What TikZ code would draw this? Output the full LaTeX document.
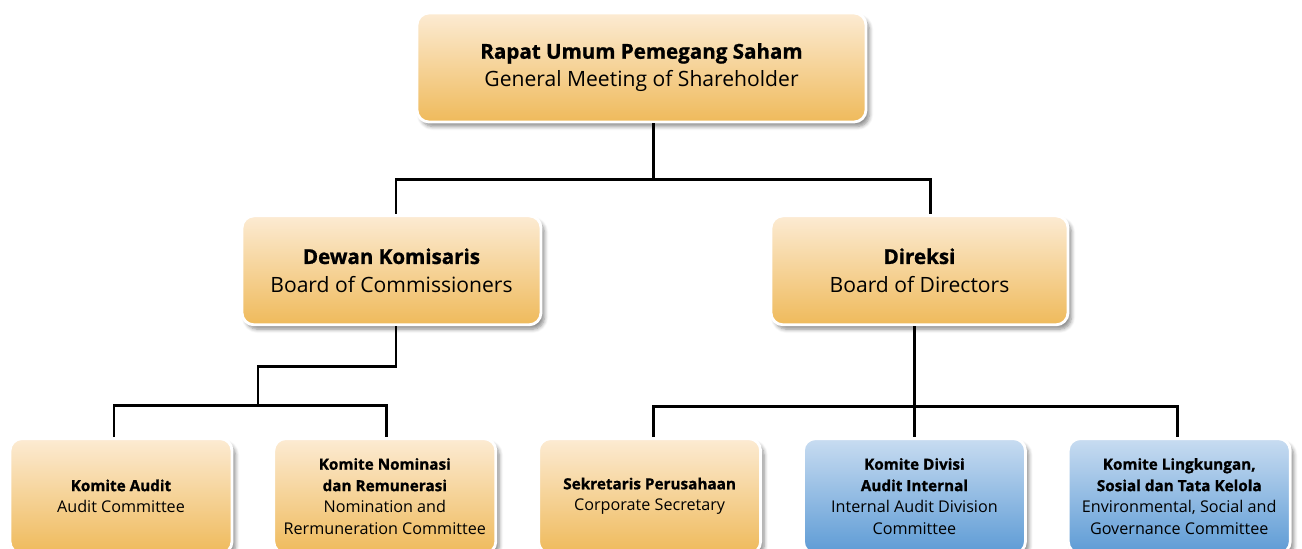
\documentclass[tikz,border=0pt]{standalone}
\usepackage{fontspec}
\setmainfont{Open Sans}[BoldFeatures={FakeBold=1}]
\usetikzlibrary{positioning,shadows.blur}

\definecolor{goldtop}{HTML}{FCEBD3}
\definecolor{goldbot}{HTML}{EFBA5B}
\definecolor{bluetop}{HTML}{C8DCF1}
\definecolor{bluebot}{HTML}{5D9BD5}

\newcommand{\hdbig}[2]{{\fontsize{11.7}{16}\selectfont\bfseries #1}\\#2}
\newcommand{\hdsub}[1]{{\fontsize{8.7}{12.2}\selectfont\bfseries #1}}

\begin{document}
\begin{tikzpicture}[
  box/.style={rectangle,rounded corners=.24cm,draw=white,line width=1.6pt,align=center,
    blur shadow={shadow xshift=.07cm,shadow yshift=-.09cm,shadow blur steps=6,shadow opacity=45}},
  gold/.style={box,top color=goldtop,bottom color=goldbot},
  bluebox/.style={box,top color=bluetop,bottom color=bluebot},
  mainbox/.style={minimum height=2.18cm,font=\fontsize{12}{16}\selectfont},
  subbox/.style={minimum width=4.44cm,minimum height=2.3cm,font=\fontsize{9.2}{12.2}\selectfont},
  conn/.style={line width=1.7pt,black}
]
\useasboundingbox (0,0) rectangle (26.04,-10.96);

% Nodes
\node[gold,mainbox,minimum width=8.98cm] (rups) at (12.83,-1.35) {\hdbig{Rapat Umum Pemegang Saham}{General Meeting of Shareholder}};
\node[gold,mainbox,minimum width=5.98cm,below=1.82cm of rups,xshift=-5cm] (dk) {\hdbig{Dewan Komisaris}{Board of Commissioners}};
\node[gold,mainbox,minimum width=5.94cm,below=1.82cm of rups,xshift=5.56cm] (dir) {\hdbig{Direksi}{Board of Directors}};

\node[gold,subbox,below=2.22cm of dk,xshift=-5.41cm] (ka) {\hdsub{Komite Audit}\\Audit Committee};
\node[gold,subbox,right=.78cm of ka] (kn) {\hdsub{Komite Nominasi}\\\hdsub{dan Remunerasi}\\Nomination and\\Rermuneration Committee};
\node[gold,subbox,right=.8cm of kn] (ks) {\hdsub{Sekretaris Perusahaan}\\Corporate Secretary};
\node[bluebox,subbox,right=.8cm of ks] (kdai) {\hdsub{Komite Divisi}\\\hdsub{Audit Internal}\\Internal Audit Division\\Committee};
\node[bluebox,subbox,right=.8cm of kdai] (kl) {\hdsub{Komite Lingkungan,}\\\hdsub{Sosial dan Tata Kelola}\\Environmental, Social and\\Governance Committee};

\coordinate (j2) at (5.16,-8.1);
\coordinate (j3) at (18.33,-8.12);

%arcs
\draw[conn] ([xshift=.23cm]rups.south) -- ++(0,-1.12) -| ([xshift=.09cm]dk.north);
\draw[conn] ([xshift=.23cm]rups.south) -- ++(0,-1.12) -| ([xshift=.21cm]dir.north);

\draw[conn] ([xshift=.09cm]dk.south) -- ++(0,-.8) -| (j2);
\draw[conn] ([xshift=-.14cm]ka.north) |- (j2) -| ([xshift=.04cm]kn.north);

\draw[conn] (kdai.north |- dir.south) -- (kdai.north);
\draw[conn] ([xshift=.08cm]ks.north) |- (j3) -| ([xshift=-.03cm]kl.north);

\end{tikzpicture}
\end{document}
